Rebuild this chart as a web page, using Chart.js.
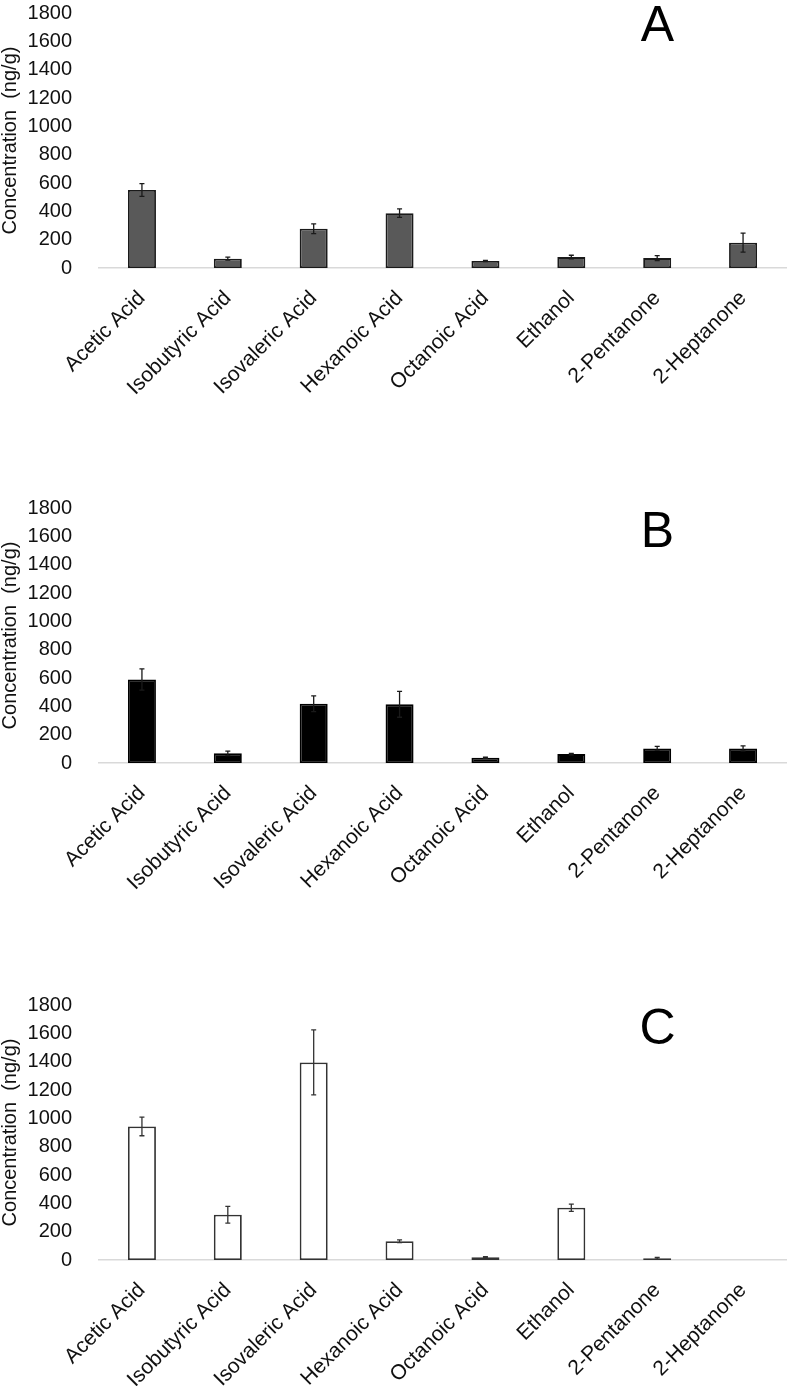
<!DOCTYPE html>
<html>
<head>
<meta charset="utf-8">
<script src="https://cdn.jsdelivr.net/npm/chart.js@4/dist/chart.umd.min.js"></script>
<style>
  html, body { margin: 0; padding: 0; background: #fff; overflow: hidden; }
  .panel { position: absolute; left: 0; width: 789px; height: 428px; }
</style>
</head>
<body>
<div class="panel" style="top:-18px"><canvas id="cA"></canvas></div>
<div class="panel" style="top:477px"><canvas id="cB"></canvas></div>
<div class="panel" style="top:974px"><canvas id="cC"></canvas></div>
<script>
const categories = ['Acetic Acid', 'Isobutyric Acid', 'Isovaleric Acid', 'Hexanoic Acid', 'Octanoic Acid', 'Ethanol', '2-Pentanone', '2-Heptanone'];
const yTicks = [0, 200, 400, 600, 800, 1000, 1200, 1400, 1600, 1800];

const valuesA = [551, 66, 277, 387, 49, 77, 70, 179];
const errorsA = [45, 11, 35, 30, 4, 13, 17, 67];

const valuesB = [589, 68, 418, 414, 37, 63, 103, 103];
const errorsB = [75, 16, 56, 91, 5, 5, 14, 18];

const valuesC = [943, 319, 1395, 132, 19, 369, 12, 0];
const errorsC = [66, 59, 229, 10, 4, 26, 6, 0];

const FONT = "'Liberation Sans', Arial, Helvetica, sans-serif";

const errorBarPlugin = {
  id: 'errorBars',
  afterDatasetsDraw(chart, args, opts) {
    const ctx = chart.ctx;
    const meta = chart.getDatasetMeta(0);
    const ds = chart.data.datasets[0];
    const yScale = chart.scales.y;
    ctx.save();
    ctx.strokeStyle = opts.color || '#222';
    ctx.lineWidth = 1.3;
    meta.data.forEach((bar, i) => {
      const e = ds.errors[i];
      const v = ds.data[i];
      if (!e) return;
      const yt = yScale.getPixelForValue(v + e);
      const yb = yScale.getPixelForValue(Math.max(0, v - e));
      const x = bar.x;
      const cap = 2.5;
      ctx.beginPath();
      ctx.moveTo(x, yt); ctx.lineTo(x, yb);
      ctx.moveTo(x - cap, yt); ctx.lineTo(x + cap, yt);
      ctx.moveTo(x - cap, yb); ctx.lineTo(x + cap, yb);
      ctx.stroke();
    });
    ctx.restore();
  }
};

const panelLetterPlugin = {
  id: 'panelLetter',
  afterDraw(chart, args, opts) {
    const ca = chart.chartArea;
    const ctx = chart.ctx;
    ctx.save();
    ctx.fillStyle = '#000';
    ctx.font = '50px ' + FONT;
    ctx.textAlign = 'center';
    ctx.textBaseline = 'alphabetic';
    ctx.fillText(opts.text, ca.left + (ca.right - ca.left) * 0.813, ca.top + opts.dy);
    ctx.restore();
  }
};

function makeChart(id, values, errors, fill, border, letter, letterDy, errColor) {
  return new Chart(document.getElementById(id), {
    type: 'bar',
    data: {
      labels: categories,
      datasets: [{
        data: values,
        errors: errors,
        backgroundColor: fill,
        borderColor: border,
        borderWidth: 1.8,
        borderSkipped: false,
        barPercentage: 0.326,
        categoryPercentage: 1.0
      }]
    },
    options: {
      responsive: false,
      animation: false,
      devicePixelRatio: 1,
      layout: { padding: { top: 0, right: 3, left: 0, bottom: 0 } },
      plugins: {
        legend: { display: false },
        tooltip: { enabled: false },
        title: { display: false },
        errorBars: { color: errColor },
        panelLetter: { text: letter, dy: letterDy }
      },
      scales: {
        x: {
          grid: { display: false },
          border: { display: true, color: '#d9d9d9', width: 1.5 },
          ticks: {
            color: '#111',
            font: { family: FONT, size: 21 },
            minRotation: 45,
            maxRotation: 45,
            autoSkip: false,
            padding: 10
          },
          afterFit(scale) { scale.height = 142; }
        },
        y: {
          min: 0,
          max: 1800,
          afterBuildTicks(scale) { scale.ticks = yTicks.map(v => ({ value: v })); },
          grid: { display: false },
          border: { display: false },
          ticks: {
            color: '#111',
            font: { family: FONT, size: 20 },
            padding: 19,
            autoSkip: false,
            callback: (v) => String(v)
          },
          title: {
            display: true,
            text: 'Concentration  (ng/g)',
            color: '#111',
            font: { family: FONT, size: 20, lineHeight: 1.0 },
            padding: { top: 0, bottom: 0 }
          },
          afterFit(scale) { scale.width = 99; }
        }
      }
    },
    plugins: [errorBarPlugin, panelLetterPlugin]
  });
}

function sizeCanvas(id) {
  const c = document.getElementById(id);
  c.width = 789; c.height = 428;
  c.style.width = '789px'; c.style.height = '428px';
}
['cA', 'cB', 'cC'].forEach(sizeCanvas);

makeChart('cA', valuesA, errorsA, '#595959', '#1a1a1a', 'A', 28, '#1a1a1a');
makeChart('cB', valuesB, errorsB, '#000000', '#000000', 'B', 39, '#1a1a1a');
makeChart('cC', valuesC, errorsC, '#ffffff', '#333333', 'C', 39, '#333333');
</script>
</body>
</html>
